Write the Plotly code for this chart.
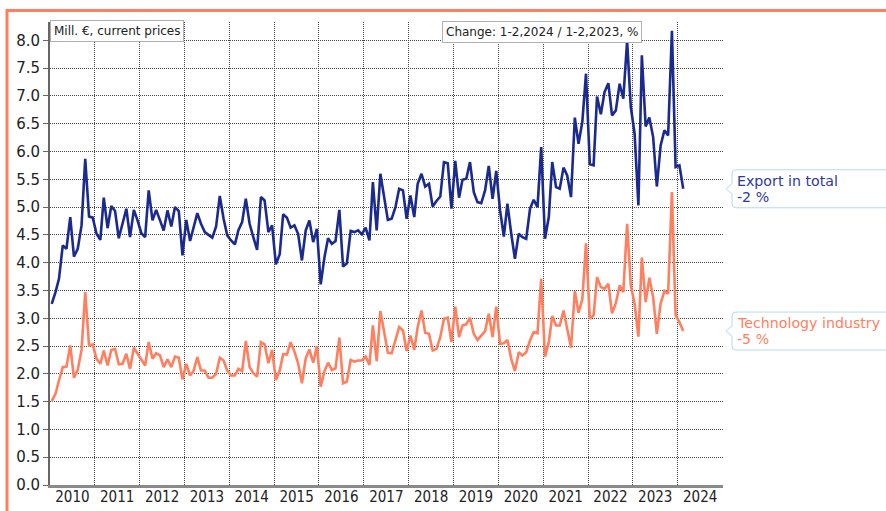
import plotly.graph_objects as go
import pandas as pd

# monthly values, Mill. EUR, current prices (Jan 2010 - Feb 2024)
months = pd.date_range("2010-01-01", "2024-02-01", freq="MS") + pd.Timedelta(days=14)

export_total = [
    3.26, 3.47, 3.71, 4.31, 4.25, 4.82, 4.11, 4.25, 4.67, 5.87, 4.83, 4.81,
    4.52, 4.41, 5.17, 4.62, 5.02, 4.93, 4.44, 4.70, 4.97, 4.46, 4.95, 4.76,
    4.53, 4.46, 5.30, 4.76, 4.95, 4.76, 4.58, 4.94, 4.65, 5.00, 4.93, 4.13,
    4.77, 4.39, 4.63, 4.89, 4.70, 4.55, 4.50, 4.45, 4.65, 5.20, 4.79, 4.49,
    4.40, 4.33, 4.58, 4.73, 5.15, 4.70, 4.46, 4.23, 5.18, 5.12, 4.55, 4.67,
    3.97, 4.15, 4.87, 4.81, 4.63, 4.67, 4.52, 4.04, 4.58, 4.76, 4.37, 4.61,
    3.61, 4.10, 4.44, 4.34, 4.39, 4.95, 3.93, 3.99, 4.57, 4.55, 4.58, 4.51,
    4.63, 4.40, 5.45, 4.58, 5.60, 5.18, 4.77, 4.79, 5.00, 5.33, 5.30, 4.79,
    5.21, 4.82, 5.42, 5.60, 5.37, 5.42, 5.01, 5.11, 5.19, 5.81, 5.79, 4.97,
    5.83, 5.17, 5.49, 5.51, 5.81, 5.27, 5.09, 5.07, 5.30, 5.74, 5.15, 5.65,
    4.94, 4.47, 5.06, 4.52, 4.07, 4.52, 4.46, 4.43, 4.97, 5.13, 5.00, 6.08,
    4.43, 4.82, 5.81, 5.36, 5.33, 5.71, 5.57, 5.18, 6.61, 6.14, 6.53, 7.40,
    5.77, 5.75, 6.99, 6.67, 7.07, 7.23, 6.65, 6.74, 7.22, 6.95, 7.99, 6.80,
    6.32, 5.03, 7.73, 6.45, 6.61, 6.26, 5.37, 6.11, 6.38, 6.29, 8.17, 5.72,
    5.75, 5.33,
]

technology_industry = [
    1.51, 1.64, 1.88, 2.12, 2.13, 2.51, 1.93, 2.07, 2.43, 3.47, 2.51, 2.53,
    2.27, 2.18, 2.42, 2.15, 2.43, 2.45, 2.17, 2.18, 2.36, 2.09, 2.47, 2.36,
    2.24, 2.15, 2.57, 2.27, 2.37, 2.33, 2.12, 2.26, 2.12, 2.31, 2.29, 1.90,
    2.18, 1.97, 2.05, 2.30, 2.06, 2.06, 1.93, 1.93, 2.00, 2.29, 2.24, 2.06,
    1.97, 1.97, 2.09, 2.05, 2.59, 2.12, 2.01, 1.95, 2.57, 2.53, 2.19, 2.43,
    1.89, 2.06, 2.35, 2.35, 2.57, 2.40, 2.19, 1.83, 2.28, 2.44, 2.20, 2.50,
    1.77, 2.05, 2.20, 2.07, 2.10, 2.65, 1.83, 1.86, 2.25, 2.22, 2.24, 2.24,
    2.31, 2.16, 2.87, 2.23, 3.13, 2.72, 2.38, 2.37, 2.63, 2.84, 2.78, 2.41,
    2.69, 2.43, 2.84, 3.14, 2.74, 2.72, 2.42, 2.45, 2.66, 2.99, 3.01, 2.57,
    3.21, 2.66, 2.87, 2.89, 3.01, 2.72, 2.61, 2.69, 2.77, 3.08, 2.66, 3.21,
    2.54, 2.55, 2.61, 2.27, 2.05, 2.39, 2.33, 2.39, 2.60, 2.75, 2.73, 3.71,
    2.31, 2.57, 3.04, 2.87, 2.87, 3.14, 2.81, 2.47, 3.49, 3.10, 3.34, 4.35,
    2.99, 3.05, 3.74, 3.56, 3.53, 3.62, 3.09, 3.27, 3.59, 3.47, 4.70, 3.59,
    3.26, 2.67, 4.09, 3.29, 3.73, 3.38, 2.72, 3.27, 3.49, 3.44, 5.27, 3.05,
    2.93, 2.77,
]

series_names = ["Export in total", "Technology industry"]
series_change = ["-2 %", "-5 %"]
series_colors = ["#1b2a8f", "#ff7f5f"]
label_colors = ["#2b3a9e", "#ff7f5f"]

W, H = 886, 511
L, R, T, B = 50, 163, 22, 26
PW, PH = W - L - R, H - T - B


def px_x(px):
    return (px - L) / PW


def px_y(py):
    return (H - B - py) / PH


fig = go.Figure()
for name, vals, col in zip(series_names, [export_total, technology_industry], series_colors):
    fig.add_trace(go.Scatter(x=months, y=vals, mode="lines", name=name,
                             line=dict(color=col, width=2.6)))

# callout labels at the last value of each series
callout = "M 9,5 L 9,15 Q 9,19 13,19 L 200,19 L 200,-19 L 13,-19 Q 9,-19 9,-15 L 9,-5 L 3,0 Z"
for vals, name, chg, col in zip([export_total, technology_industry], series_names,
                                series_change, label_colors):
    last = vals[-1]
    fig.add_shape(type="path", path=callout, xref="paper", xsizemode="pixel", xanchor=1,
                  yref="y", ysizemode="pixel", yanchor=last,
                  line=dict(color="#b3dcea", width=1), fillcolor="white")
    fig.add_annotation(xref="paper", x=1, xshift=13, xanchor="left", yref="y", y=last,
                       yshift=8, yanchor="middle", text=name, showarrow=False, borderpad=0,
                       font=dict(size=14.2, color=col))
    fig.add_annotation(xref="paper", x=1, xshift=13, xanchor="left", yref="y", y=last,
                       yshift=-8, yanchor="middle", text=chg, showarrow=False, borderpad=0,
                       font=dict(size=14.2, color=col))

# outer frame
fig.add_shape(type="rect", xref="paper", yref="paper",
              x0=px_x(7), x1=px_x(930), y0=px_y(560), y1=px_y(10.5),
              line=dict(color="#ff7f5f", width=3), fillcolor="rgba(0,0,0,0)")

box = dict(showarrow=False, xref="paper", yref="paper", xanchor="left", yanchor="top",
           bgcolor="white", bordercolor="#b0b0b0", borderwidth=1, borderpad=3,
           font=dict(size=12, color="#222"))
fig.add_annotation(text="Mill. €, current prices", x=px_x(50), y=px_y(20), **box)
fig.add_annotation(text="Change: 1-2,2024 / 1-2,2023, %", x=px_x(442), y=px_y(21), **box)

fig.update_layout(
    width=W, height=H,
    margin=dict(l=L, r=R, t=T, b=B),
    paper_bgcolor="white", plot_bgcolor="white",
    showlegend=False,
    font=dict(family="DejaVu Sans, Verdana, sans-serif", size=14, color="#222"),
)
fig.update_xaxes(
    type="date", range=["2010-01-01", "2025-01-04"], automargin=False,
    tick0="2010-01-01", dtick="M12", tickformat="%Y", ticklabelmode="period",
    ticks="", ticklabelstandoff=-4,
    showgrid=True, gridcolor="#444", griddash="1px,1px", gridwidth=1,
    showline=True, linecolor="#8a8a8a", linewidth=3,
    tickfont=dict(family="DejaVu Sans Condensed, Liberation Sans Narrow, Arial Narrow, sans-serif",
                  size=15, color="#222"),
)
fig.update_yaxes(
    range=[0, 8.33], dtick=0.5, tickformat=".1f", automargin=False,
    ticks="outside", ticklen=5, tickcolor="#666",
    showgrid=True, gridcolor="#444", griddash="1px,1px", gridwidth=1, zeroline=False,
    showline=True, linecolor="#666", linewidth=2,
    tickfont=dict(size=15, color="#222"),
)

fig.write_html("out.html", config={"displayModeBar": False},
               post_script="document.body.style.margin='0px';")
